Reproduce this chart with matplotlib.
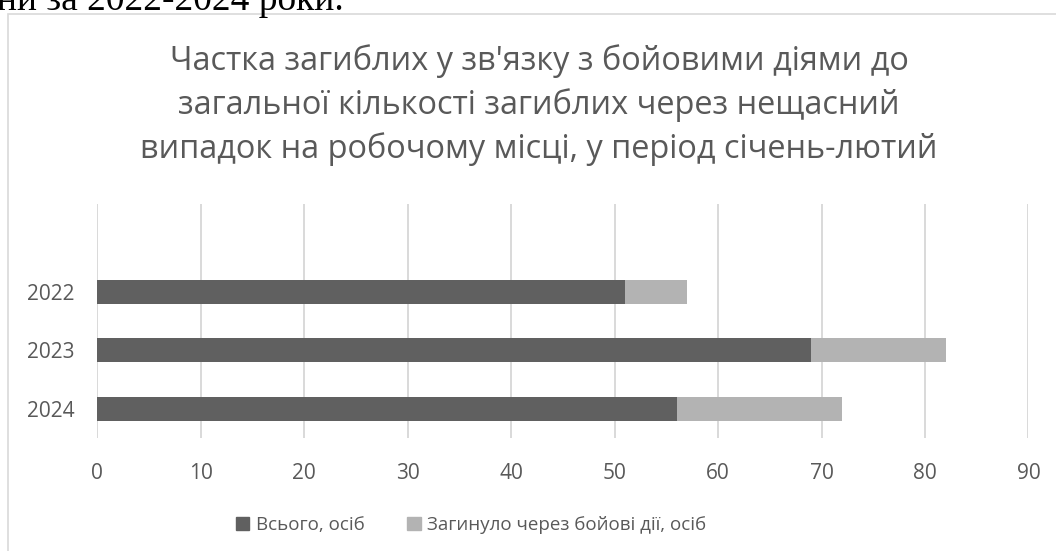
import matplotlib.pyplot as plt
from matplotlib.patches import Rectangle, Patch

years = ['2022', '2023', '2024']
total = [51, 69, 56]
combat = [6, 13, 16]
series_names = ['Всього, осіб', 'Загинуло через бойові дії, осіб']
title_lines = ["Частка загиблих у зв'язку з бойовими діями до",
               "загальної кількості загиблих через нещасний",
               "випадок на робочому місці, у період січень-лютий"]
doc_text = 'ни за 2022-2024 роки.'
x_ticks = [0, 10, 20, 30, 40, 50, 60, 70, 80, 90]

W, H = 1056, 551
DARK, LIGHT, TXT, GRID = '#606060', '#b3b3b3', '#595959', '#d9d9d9'

plt.rcParams['font.family'] = ['Open Sans', 'DejaVu Sans']

fig = plt.figure(figsize=(W / 100, H / 100), dpi=100)


def fx(px):
    return px / W


def fy(py):
    return 1 - py / H


# chart frame, cut by the page on the right and at the bottom
fig.patches.append(Rectangle((fx(8), fy(700)), fx(1400), fy(14) - fy(700),
                             transform=fig.transFigure, fill=False,
                             edgecolor=GRID, lw=1.2))

# piece of the document text above the chart
fig.text(fx(-3), fy(10), doc_text, family='Liberation Serif', fontsize=27,
         va='baseline', ha='left', color='black')

# title
for i, line in enumerate(title_lines):
    fig.text(fx(539), fy(70 + 44 * i), line, ha='center', va='baseline',
             fontsize=23.4, color=TXT)

ax = fig.add_axes([fx(97.4), fy(438), fx(1028.4) - fx(97.4), fy(204) - fy(438)])
pos = list(range(len(years)))
ax.barh(pos, total, height=0.405, color=DARK, label=series_names[0], zorder=3)
ax.barh(pos, combat, left=total, height=0.405, color=LIGHT,
        label=series_names[1], zorder=3)

ax.set_xlim(0, 90)
ax.set_ylim(2.5, -1.5)
ax.set_xticks(x_ticks)
ax.set_yticks(pos)
ax.set_yticklabels(years)
ax.grid(axis='x', color=GRID, lw=1.4)
ax.set_axisbelow(True)
for s in ax.spines.values():
    s.set_visible(False)
ax.tick_params(axis='both', length=0, colors=TXT, labelsize=15)
ax.tick_params(axis='x', pad=18)
ax.tick_params(axis='y', pad=16.5)

handles = [Patch(color=DARK), Patch(color=LIGHT)]
fig.legend(handles, series_names, loc='center', bbox_to_anchor=(fx(471), fy(525)),
           ncol=2, frameon=False, labelcolor=TXT,
           prop={'family': ['Liberation Sans Narrow', 'Open Sans'], 'size': 13.5},
           handlelength=0.7, handleheight=0.7, handletextpad=0.35,
           columnspacing=2.3)

fig.savefig('out.png', dpi=100, facecolor='white')
